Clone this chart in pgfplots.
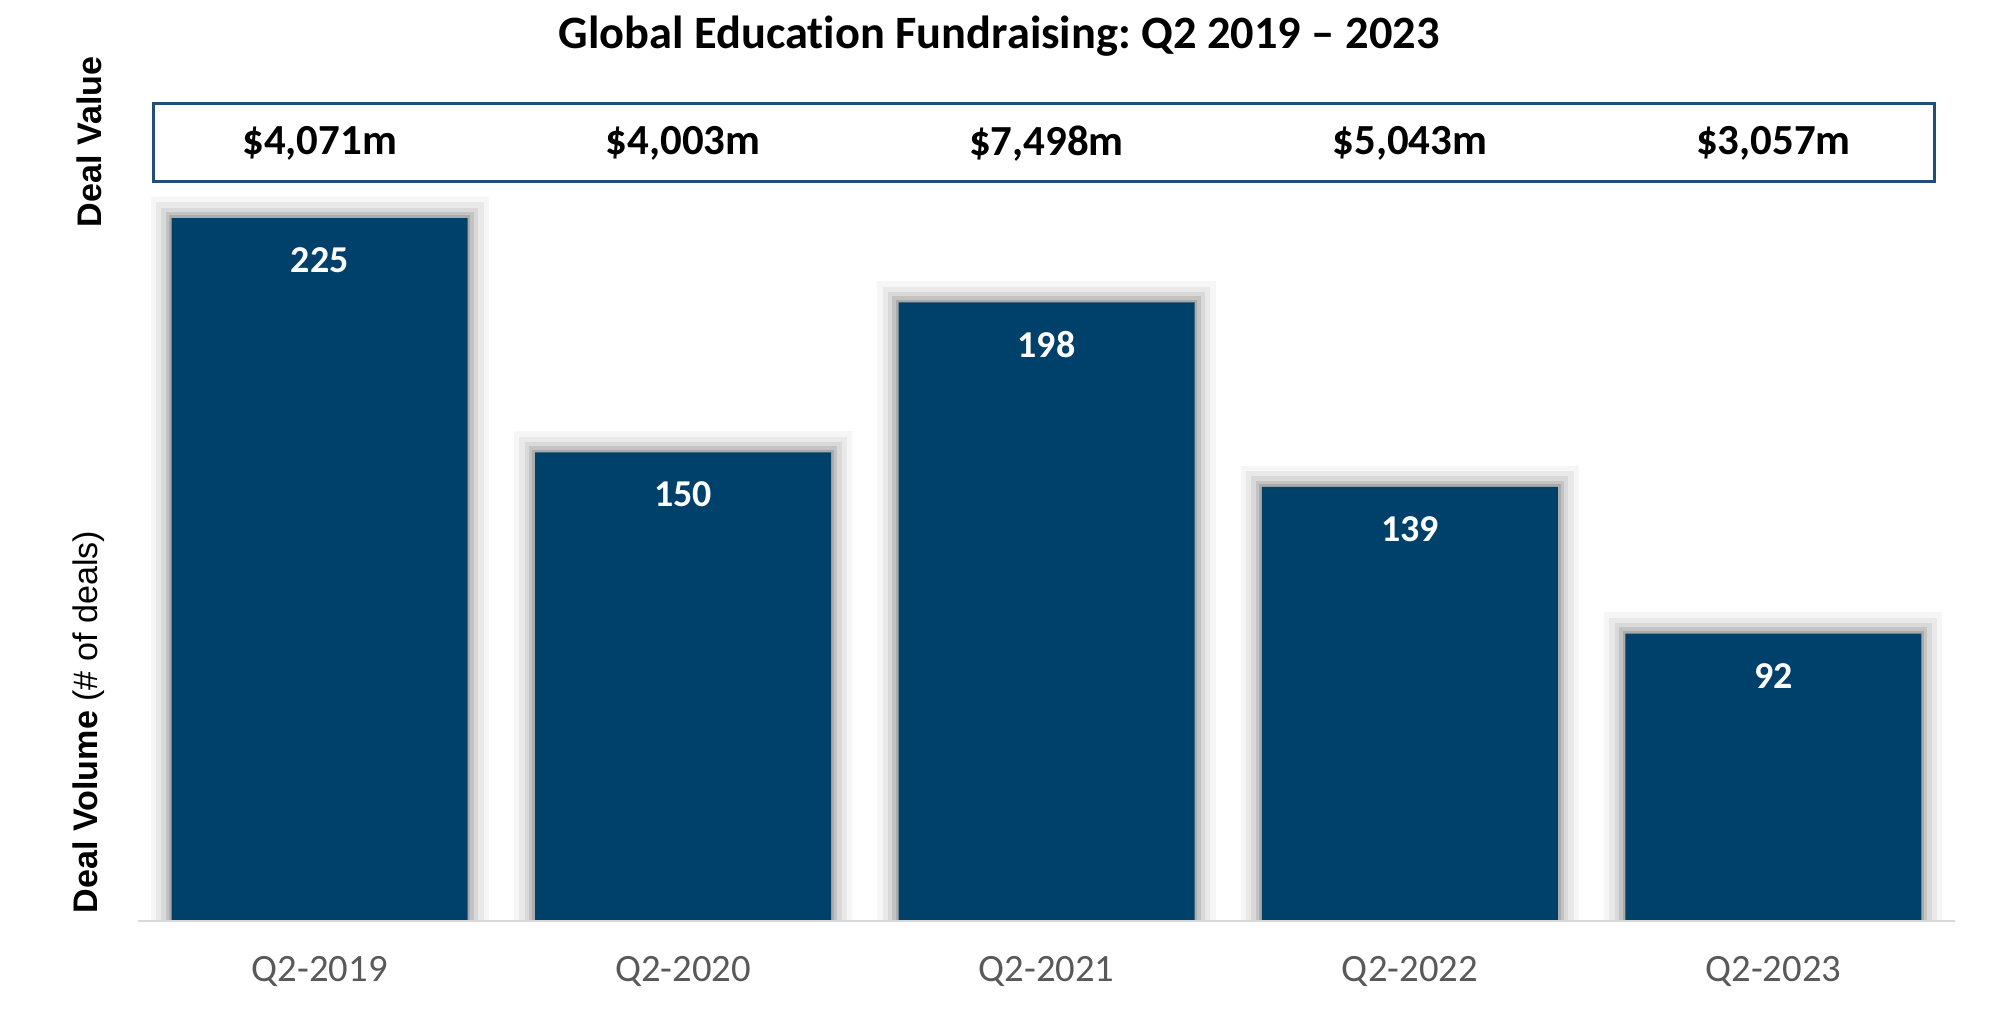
\documentclass[border=0pt]{standalone}
\usepackage{pgfplots}
\pgfplotsset{compat=1.18}
\usepackage{fontspec}
\setmainfont{Carlito}[Ligatures={NoCommon}]
\newfontfamily\arialfont{Liberation Sans}
\frenchspacing
\definecolor{barblue}{HTML}{00416B}
\definecolor{boxblue}{HTML}{1F4E79}
\definecolor{tickgray}{HTML}{595959}
\definecolor{axisgray}{HTML}{D9D9D9}
\pgfplotstableread{
x y
0 225
1 150
2 198
3 139
4 92
}\volume
\pgfplotsset{shadowlayer/.style={ybar, bar shift=0pt, bar width=2.96cm, fill=none, draw=black, forget plot}}
\begin{document}
\begin{tikzpicture}[x=1cm,y=1cm]
\useasboundingbox (0,0) rectangle (20,10.19);
\begin{axis}[
  at={(1.38cm,0.98cm)}, anchor=south west,
  scale only axis, width=18.17cm, height=7.81cm,
  xmin=-0.5, xmax=4.5, ymin=0, ymax=250,
  clip=false, axis on top,
  axis x line*=bottom, axis y line=none,
  x axis line style={draw=axisgray, line width=0.7pt},
  xtick=data, xticklabels={Q2-2019,Q2-2020,Q2-2021,Q2-2022,Q2-2023},
  major tick length=0pt,
  xticklabel style={anchor=center, yshift=-0.51cm, text=tickgray, font=\fontsize{11}{13}\selectfont},
  ytick=\empty,
  /pgf/number format/assume math mode=true,
]
% soft shadow layers
\addplot[shadowlayer, draw opacity=0.035, line width=12pt] table[x=x,y=y] {\volume};
\addplot[shadowlayer, draw opacity=0.05, line width=9pt] table[x=x,y=y] {\volume};
\addplot[shadowlayer, draw opacity=0.07, line width=6pt] table[x=x,y=y] {\volume};
\addplot[shadowlayer, draw opacity=0.10, line width=3.5pt] table[x=x,y=y] {\volume};
\addplot[shadowlayer, draw opacity=0.12, line width=1.5pt] table[x=x,y=y] {\volume};
\fill[white] (axis cs:-0.6,0) rectangle (axis cs:4.6,-12);
\addplot[ybar, bar shift=0pt, bar width=2.96cm, fill=barblue, draw=none,
  nodes near coords,
  nodes near coords style={anchor=center, yshift=-0.42cm, text=white, font=\bfseries\fontsize{10.8}{12}\selectfont}]
  table[x=x,y=y] {\volume};
\addplot[draw=none, mark=none, nodes near coords, point meta=explicit symbolic,
  nodes near coords style={anchor=center, text=black, font=\bfseries\fontsize{12.2}{14}\selectfont}]
  coordinates {(0,249)[\$4,071m] (1,249)[\$4,003m] (2,249)[\$7,498m] (3,249)[\$5,043m] (4,249)[\$3,057m]};
\draw[boxblue, line width=0.85pt] (axis cs:-0.457,236.6) rectangle (axis cs:4.443,261.8);
\end{axis}
\node[font=\bfseries\fontsize{13.2}{15}\selectfont, anchor=center] at (9.99,9.83) {Global Education Fundraising: Q2 2019 – 2023};
\node[rotate=90, font=\arialfont\bfseries\fontsize{9.7}{11}\selectfont, anchor=center] at (0.89,8.77) {Deal Value};
\node[rotate=90, font=\arialfont\fontsize{9.7}{11}\selectfont, anchor=center] at (0.89,2.97) {\textbf{Deal Volume} (\# of deals)};
\end{tikzpicture}
\end{document}
